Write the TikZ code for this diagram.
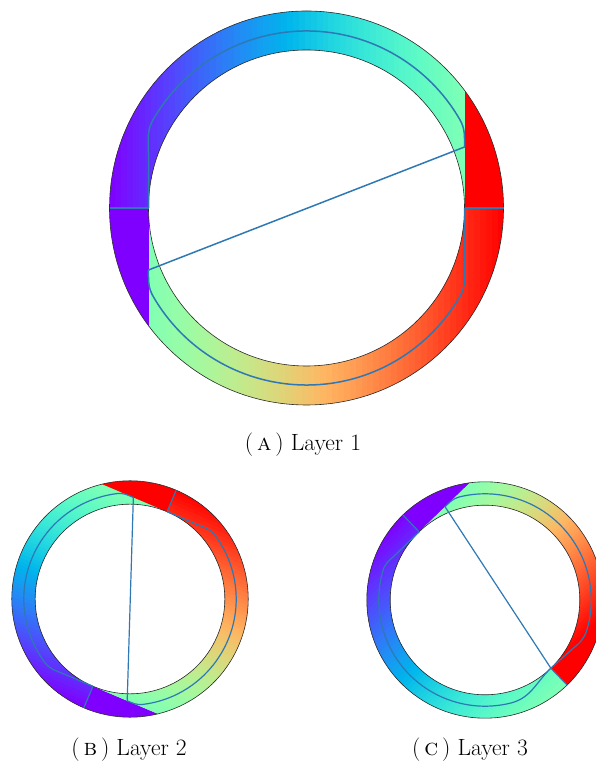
\documentclass[tikz,border=0pt]{standalone}
\usepackage{tikz}
\definecolor{TraceBlue}{HTML}{2E78B4}
\definecolor{RingEdge}{HTML}{2B2B2B}
\tikzset{
  ringedge/.style={draw=RingEdge, line width=0.6pt},
  trace/.style={draw=TraceBlue, line width=1.5pt, line join=round},
  thintrace/.style={trace, line width=1.2pt},
  caption/.style={font=\fontsize{23.5}{28}\selectfont, inner sep=0pt},
}
% rainbow colour map, t in [0,1]
\newcommand\cmapset[1]{%
  \pgfmathsetmacro\cmR{min(abs(2*#1-0.5),1)}%
  \pgfmathsetmacro\cmG{max(sin(180*#1),0)}%
  \pgfmathsetmacro\cmB{max(cos(90*#1),0)}%
  \definecolor{cmap}{rgb}{\cmR,\cmG,\cmB}}
% strips from x=#1 to x=#2, colour t=#3 to t=#4, upper (1) or lower (-1) half
\newcommand\bandfill[5]{%
  \foreach \k in {0,...,59}{%
    \pgfmathsetmacro\stripA{#1+(#2-#1)*(\k/60)}%
    \pgfmathsetmacro\stripB{#1+(#2-#1)*((\k+1.5)/60)}%
    \pgfmathsetmacro\tval{#3+(#4-#3)*((\k+0.5)/60)}%
    \cmapset{\tval}%
    \fill[cmap] (\stripA,0) rectangle (\stripB,#5*200);
  }}
% ring and trace used for layers 1 and 2
\newcommand\ringAB[1]{%
  \begin{scope}
    \clip (197,0) arc[start angle=0,end angle=180,radius=197] -- (-158,0)
      arc[start angle=180,end angle=0,radius=158] -- cycle;
    \bandfill{-197}{158}{0}{0.5}{1}
    \cmapset{1}\fill[cmap] (158,0) rectangle (200,200);
  \end{scope}
  \begin{scope}
    \clip (197,0) arc[start angle=0,end angle=-180,radius=197] -- (-158,0)
      arc[start angle=-180,end angle=0,radius=158] -- cycle;
    \cmapset{0}\fill[cmap] (-200,0) rectangle (-158,-200);
    \bandfill{-158}{197}{0.5}{1}{-1}
  \end{scope}
  \draw[ringedge] (0,0) circle[radius=197] (0,0) circle[radius=158];
  \draw[#1] (-197,0) -- (-158,0) (158,0) -- (197,0);
  \draw[#1] (-158,0) -- (-158,55) to[out=90,in=240] (150:177)
    arc[start angle=150,end angle=30,radius=177] to[out=-60,in=90] (158,61)
    -- (-158,-62) to[out=-90,in=120] (210:177)
    arc[start angle=210,end angle=330,radius=177] to[out=60,in=-90] (158,-55) -- (158,0);
}

\begin{document}
\begin{tikzpicture}[x=1pt,y=1pt]
  \useasboundingbox (0,0) rectangle (596,765);

  % layer 1
  \begin{scope}[shift={(306.5,557)}]
    \ringAB{trace}
  \end{scope}
  \node[caption] (capA) at (303,320) {(\,\textsc{a}\,)\ Layer 1};

  % layer 2
  \begin{scope}[shift={(130,166)},rotate=67,scale=0.6]
    \ringAB{thintrace}
  \end{scope}
  \node[caption] (capB) at (129,15) {(\,\textsc{b}\,)\ Layer 2};

  % layer 3
  \begin{scope}[shift={(485,165)},rotate=-46,scale=0.6]
    \begin{scope}
      \clip (197,0) arc[start angle=0,end angle=-180,radius=197] -- (-158,0)
        arc[start angle=-180,end angle=0,radius=158] -- cycle;
      \bandfill{-197}{197}{0}{0.5}{-1}
    \end{scope}
    \begin{scope}
      \clip (197,0) arc[start angle=0,end angle=180,radius=197] -- (-158,0)
        arc[start angle=180,end angle=0,radius=158] -- cycle;
      \cmapset{0}\fill[cmap] (-200,0) rectangle (-158,200);
      \bandfill{-158}{158}{0.5}{1}{1}
      \cmapset{1}\fill[cmap] (158,0) rectangle (200,200);
    \end{scope}
    \draw[ringedge] (0,0) circle[radius=197] (0,0) circle[radius=158];
    \draw[thintrace] (-197,0) -- (-158,0) (158,0) -- (197,0);
    \draw[thintrace] (-158,0) -- (-158,-55) to[out=-90,in=120] (210:177)
      arc[start angle=210,end angle=330,radius=177] to[out=60,in=-90] (158,0)
      -- (160,50) to[out=85,in=-60] (30:177)
      arc[start angle=30,end angle=150,radius=177] to[out=240,in=90] (-158,60)
      -- (158,0);
  \end{scope}
  \node[caption] (capC) at (470,15) {(\,\textsc{c}\,)\ Layer 3};
\end{tikzpicture}
\end{document}
